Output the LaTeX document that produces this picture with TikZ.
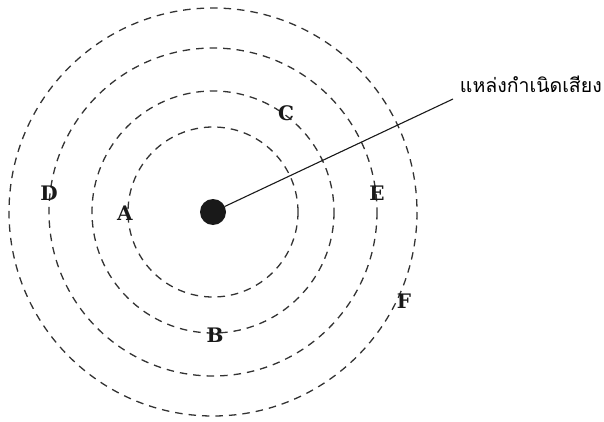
\documentclass[tikz,border=0pt]{standalone}
\usepackage{fontspec}
\newfontfamily\thaifont[Script=Thai]{Loma}
\newfontfamily\letterfont{DejaVu Serif}
\begin{document}
\begin{tikzpicture}[x=1pt,y=-1pt,
  wave/.style={draw=black!80, line width=1.3pt, dash pattern=on 7.5pt off 6pt},
  lbl/.style={font=\letterfont\bfseries\fontsize{20}{20}\selectfont, inner sep=0pt, text=black!90},
  thai/.style={font=\thaifont\fontsize{19.5}{19.5}\selectfont, inner sep=0pt, anchor=east}]
\useasboundingbox (0,0) rectangle (604,422);
\coordinate (o) at (213,212);
\draw[wave] (o) circle[radius=85];
\draw[wave] (o) circle[radius=121];
\draw[wave] (o) circle[radius=164];
\draw[wave] (o) circle[radius=204];
\node[circle, fill=black!90, minimum size=26pt, inner sep=0pt] (src) at (o) {};
\coordinate (tip) at (453,99);
\node[thai] (t) at (602,84) {แหล่งกำเนิดเสียง};
\draw[line width=1.1pt, black!90] (src) -- (tip);
\node[lbl] (A) at (125,213) {A};
\node[lbl] (B) at (215,335) {B};
\node[lbl] (C) at (286,113) {C};
\node[lbl] (D) at (49,193) {D};
\node[lbl] (E) at (377,193) {E};
\node[lbl] (F) at (404,301) {F};
\end{tikzpicture}
\end{document}
